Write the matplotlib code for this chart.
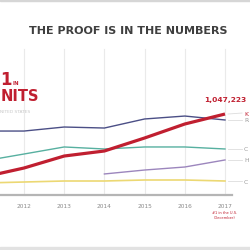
import matplotlib
matplotlib.use("Agg")
import matplotlib.pyplot as plt

# ---------- data (thousands of units) ----------
years = [2011, 2012, 2013, 2014, 2015, 2016, 2017]
red_vals = [233, 349, 504, 569, 737, 918, 1047]
navy_vals = [827, 827, 879, 866, 983, 1021, 970]
teal_vals = [440, 530, 621, 595, 621, 621, 595]
purple_years = [2014, 2015, 2016, 2017]
purple_vals = [272, 323, 362, 453]
yellow_vals = [155, 168, 181, 181, 194, 194, 181]
tick_years = [2012, 2013, 2014, 2015, 2016, 2017]
end_labels = ["K", "R", "C", "H", "C"]
end_values = [1047, 970, 595, 453, 181]

RED = "#c01f30"
W, H = 251, 251

fig = plt.figure(figsize=(W / 100, H / 100), dpi=100)
fig.patch.set_facecolor("white")
ax = fig.add_axes([0, 0, 1, 1])
ax.set_axis_off()

# pixel mapping: 2012 -> x 24, 2017 -> x 225 ; value 0 -> y 196, 12.93 per px
px_per_year = (225 - 24) / 5
ax.set_xlim(2012 - 24 / px_per_year, 2017 + (W - 225) / px_per_year)
k = 12.93
ax.set_ylim(-(H - 196) * k, 196 * k)

# grid + baseline
for yr in tick_years:
    ax.plot([yr, yr], [0, 1890], color="#eaeaea", lw=0.8, zorder=1)
ax.plot([2011, 2017 + 7 / px_per_year], [0, 0], color="#b5b5b5", lw=1.6, zorder=2)
for yr in tick_years:
    ax.text(yr, -11 * k, str(yr), ha="center", va="center", fontsize=4.2,
            color="#8a8a8a")

# lines
ax.plot(years, navy_vals, color="#4b4f86", lw=1.0, zorder=3)
ax.plot(years, teal_vals, color="#57b0a0", lw=1.0, zorder=3)
ax.plot(purple_years, purple_vals, color="#9c86bd", lw=1.0, zorder=3)
ax.plot(years, yellow_vals, color="#ecd873", lw=1.2, zorder=3)
ax.plot(years, red_vals, color=RED, lw=2.3, zorder=4, solid_capstyle="butt")

# end labels with leader lines
label_y = [1060, 970, 595, 453, 181]
for v, ly, lab in zip(end_values, label_y, end_labels):
    ax.plot([2017 + 3 / px_per_year, 2017 + 17 / px_per_year], [v, ly],
            color="#dddddd", lw=0.6, zorder=2)
    ax.text(2017 + 19 / px_per_year, ly, lab, ha="left", va="center",
            fontsize=4.3, color=RED if lab == "K" else "#999999")

ax.text(2017, 1047 + 15 * k, "1,047,223", ha="center", va="center",
        fontsize=5.4, fontweight="bold", color=RED)
ax.text(2017, -17 * k, "#1 in the U.S.", ha="center", va="center",
        fontsize=2.6, color=RED)
ax.text(2017, -22 * k, "(December)", ha="center", va="center",
        fontsize=2.6, color=RED)

# title + left callout
fig.text(128 / W, 1 - 31 / H, "THE PROOF IS IN THE NUMBERS", ha="center",
         va="center", fontsize=8, fontweight="bold", color="#3f3f3f")
fig.text(0.5 / W, 1 - 80 / H, "1", ha="left", va="center", fontsize=12,
         fontweight="bold", family="Liberation Sans Narrow", color=RED)
fig.text(12.5 / W, 1 - 84 / H, "IN", ha="left", va="center", fontsize=4,
         fontweight="bold", family="Liberation Sans Narrow", color=RED)
fig.text(0.5 / W, 1 - 96.5 / H, "NITS", ha="left", va="center", fontsize=10.5,
         fontweight="bold", family="Liberation Sans Narrow", color=RED)
fig.text(0.5 / W, 1 - 112 / H, "NITED STATES", ha="left", va="center",
         fontsize=3.2, color="#c8c8c8")

# top / bottom bands
fig.patches.append(plt.Rectangle((0, 1 - 2 / H), 1, 2 / H, transform=fig.transFigure,
                                 color="#d6d6d6", zorder=0))
fig.patches.append(plt.Rectangle((0, 0), 1, 3.5 / H, transform=fig.transFigure,
                                 color="#e2e2e2", zorder=0))

fig.savefig("out.png", dpi=100)
